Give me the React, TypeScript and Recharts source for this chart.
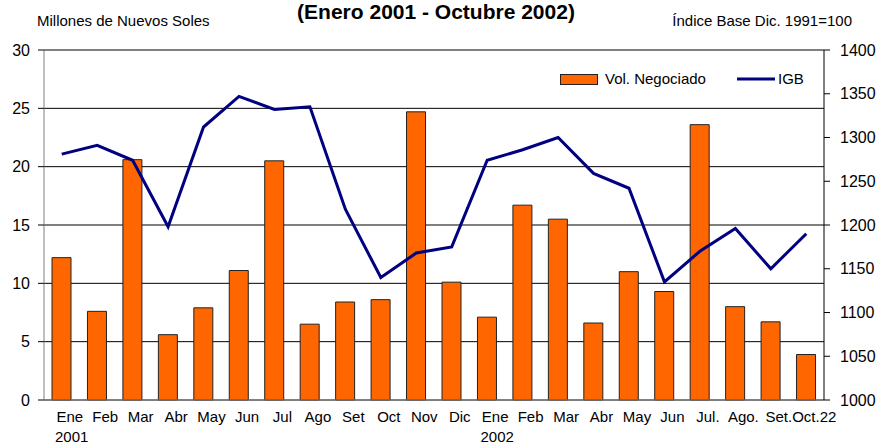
import React from 'react'
import { ComposedChart, Bar, Line, XAxis, YAxis, CartesianGrid } from 'recharts'

// Categorías (Ene 2001 - Oct 2002)
const months = [
    "Ene", "Feb", "Mar", "Abr", "May", "Jun", "Jul", "Ago", "Set", "Oct", "Nov", "Dic",
    "Ene", "Feb", "Mar", "Abr", "May", "Jun", "Jul.", "Ago.", "Set.", "Oct.22",
]

// Millones de Nuevos Soles
const volNegociado = [
    12.2, 7.6, 20.6, 5.6, 7.9, 11.1, 20.5, 6.5, 8.4, 8.6, 24.7, 10.1,
    7.1, 16.7, 15.5, 6.6, 11.0, 9.3, 23.6, 8.0, 6.7, 3.9,
]

// Índice Base Dic. 1991=100
const igb = [
    1281, 1291, 1274, 1198, 1312, 1347, 1332, 1335, 1218, 1140, 1168, 1175,
    1274, 1286, 1300, 1259, 1242, 1135, 1170, 1196, 1150, 1190,
]

const leftTicks = [0, 5, 10, 15, 20, 25, 30]
const rightTicks = [1000, 1050, 1100, 1150, 1200, 1250, 1300, 1350, 1400]
const yearStarts = [{ index: 0, label: "2001" }, { index: 12, label: "2002" }]

const font = '"Liberation Sans", Arial, sans-serif'
const axisGray = "#808080"

const data = months.map((mes, i) => ({ mes, vol: volNegociado[i], igb: igb[i] }))

function MonthTick(props: any) {
    const { x, y, payload, index } = props
    const year = yearStarts.find(s => s.index === index)
    return (
        <g>
            <text x={x + 8} y={y + 22} textAnchor="middle" fontSize={15} fill="#000" fontFamily={font}>
                {payload.value}
            </text>
            {year && (
                <text x={x + 10} y={y + 42} textAnchor="middle" fontSize={15} fill="#000" fontFamily={font}>
                    {year.label}
                </text>
            )}
        </g>
    )
}

export default function App() {
    return (
        <div style={{ position: 'absolute', left: 0, top: 0, width: 880, height: 446, background: '#fff' }}>
            <ComposedChart
                width={880}
                height={446}
                data={data}
                margin={{ top: 50, right: 0, bottom: 0, left: 0 }}
            >
                <CartesianGrid yAxisId="left" vertical={false} stroke="#000" strokeWidth={1} />
                <XAxis
                    dataKey="mes"
                    height={46}
                    interval={0}
                    tickLine={false}
                    tickSize={0}
                    tickMargin={0}
                    axisLine={{ stroke: axisGray }}
                    tick={<MonthTick />}
                />
                <YAxis
                    yAxisId="left"
                    width={44}
                    domain={[0, 30]}
                    ticks={leftTicks}
                    interval={0}
                    tickSize={6}
                    tickMargin={8}
                    axisLine={{ stroke: axisGray }}
                    tickLine={{ stroke: "#000" }}
                    tick={{ fontSize: 16, fill: "#000", fontFamily: font }}
                />
                <YAxis
                    yAxisId="right"
                    orientation="right"
                    width={56}
                    domain={[1000, 1400]}
                    ticks={rightTicks}
                    interval={0}
                    tickSize={6}
                    tickMargin={10}
                    axisLine={{ stroke: "#000" }}
                    tickLine={{ stroke: "#000" }}
                    tick={{ fontSize: 16, fill: "#000", fontFamily: font, textAnchor: "start" }}
                />
                <Bar
                    yAxisId="left"
                    dataKey="vol"
                    name="Vol. Negociado"
                    fill="#FF6600"
                    stroke="#222"
                    strokeWidth={1}
                    barSize={19}
                    isAnimationActive={false}
                />
                <Line
                    yAxisId="right"
                    type="linear"
                    dataKey="igb"
                    name="IGB"
                    stroke="#000080"
                    strokeWidth={3}
                    dot={false}
                    activeDot={false}
                    isAnimationActive={false}
                />
            </ComposedChart>

            <svg
                width={880}
                height={446}
                style={{ position: 'absolute', left: 0, top: 0, pointerEvents: 'none' }}
            >
                <text x={436} y={19} textAnchor="middle" fontSize={21} fontWeight="bold" fontFamily={font} fill="#000">
                    (Enero 2001 - Octubre 2002)
                </text>
                <text x={37} y={26} fontSize={15} fontFamily={font} fill="#000">
                    Millones de Nuevos Soles
                </text>
                <text x={852} y={26} textAnchor="end" fontSize={15} fontFamily={font} fill="#000">
                    Índice Base Dic. 1991=100
                </text>
                {/* leyenda */}
                <rect x={560.5} y={74.5} width={37} height={10} fill="#FF6600" stroke="#222" />
                <text x={605} y={84} fontSize={15} fontFamily={font} fill="#000">Vol. Negociado</text>
                <line x1={737} x2={775} y1={79} y2={79} stroke="#000080" strokeWidth={3} />
                <text x={778} y={84} fontSize={15} fontFamily={font} fill="#000">IGB</text>
            </svg>
        </div>
    )
}
